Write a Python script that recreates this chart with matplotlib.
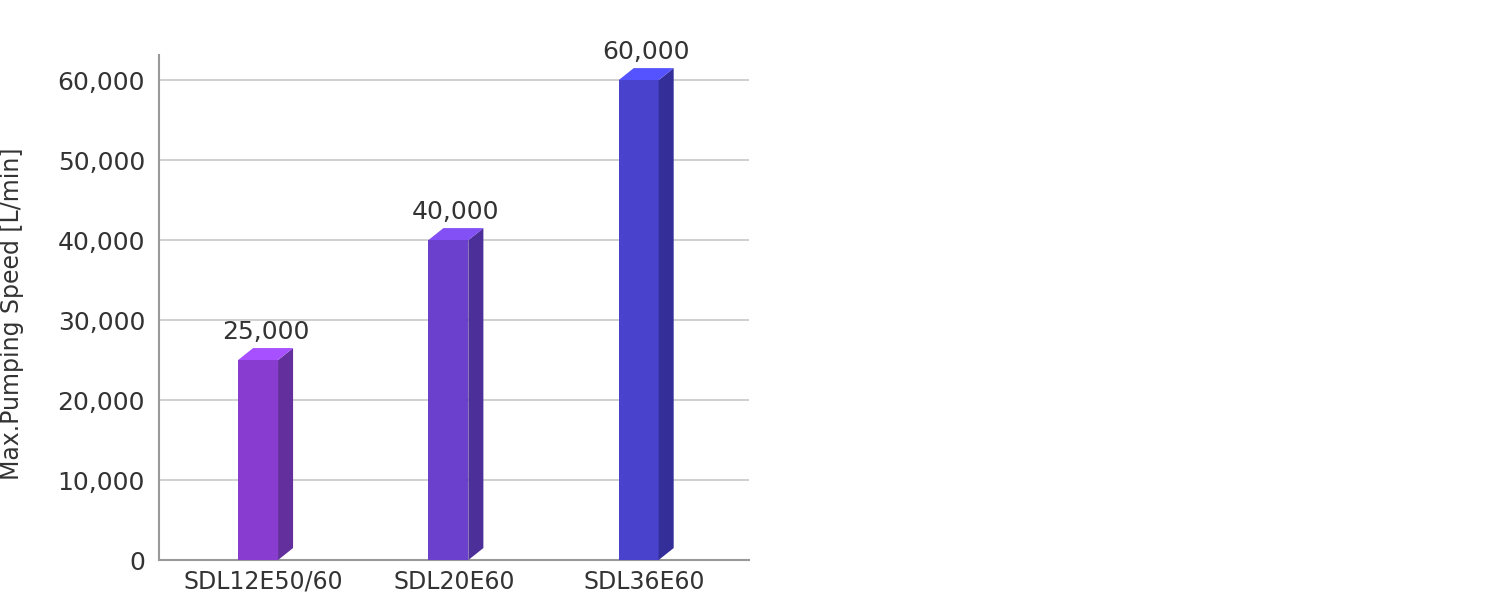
import matplotlib.pyplot as plt
from matplotlib.patches import Polygon

# data
models = ['SDL12E50/60', 'SDL20E60', 'SDL36E60']
speeds = [25000, 40000, 60000]
front_colors = ['#883dd0', '#6a40cc', '#4842cc']
side_colors = ['#632f9c', '#4c2f98', '#332e98']
top_colors = ['#a650ff', '#8250f5', '#5552ff']

fig = plt.figure(figsize=(15, 5.94), dpi=100)
ax = fig.add_axes([0.106, 0.0572, 0.3933, 0.85])

w = 0.21      # front face width
dx = 0.079    # depth in x
dy = 1500     # depth in y

for i, (v, fc, sc, tc) in enumerate(zip(speeds, front_colors, side_colors, top_colors)):
    x0 = i - (w + dx) / 2 + 0.01
    ax.bar(x0, v, width=w, align='edge', color=fc, zorder=3)
    ax.add_patch(Polygon([(x0 + w, 0), (x0 + w + dx, dy), (x0 + w + dx, v + dy), (x0 + w, v)],
                         closed=True, color=sc, zorder=3, lw=0))
    ax.add_patch(Polygon([(x0, v), (x0 + w, v), (x0 + w + dx, v + dy), (x0 + dx, v + dy)],
                         closed=True, color=tc, zorder=3, lw=0))
    ax.text(i + 0.01, v + dy + 500, f'{v:,}', ha='center', va='bottom', fontsize=18, color='#333333')

ax.set_xlim(-0.55, 2.55)
ax.set_ylim(0, 63125)
ax.set_yticks(range(0, 60001, 10000))
ax.set_yticklabels([f'{t:,}' for t in range(0, 60001, 10000)], fontsize=18, color='#333333')
ax.set_xticks(range(len(models)))
ax.set_xticklabels(models, fontsize=17, color='#333333')
ax.tick_params(length=0, axis='y', pad=10)
ax.tick_params(length=0, axis='x', pad=7)
ax.grid(axis='y', color='#c8c8c8', lw=1.2, zorder=0)
ax.set_ylabel('Max.Pumping Speed [L/min]', fontsize=17, color='#333333')
ax.yaxis.set_label_coords(-0.228, 0.487)

for s in ['top', 'right']:
    ax.spines[s].set_visible(False)
for s in ['left', 'bottom']:
    ax.spines[s].set_color('#999999')
    ax.spines[s].set_linewidth(1.5)

plt.savefig('out.png', dpi=100)
plt.close()
